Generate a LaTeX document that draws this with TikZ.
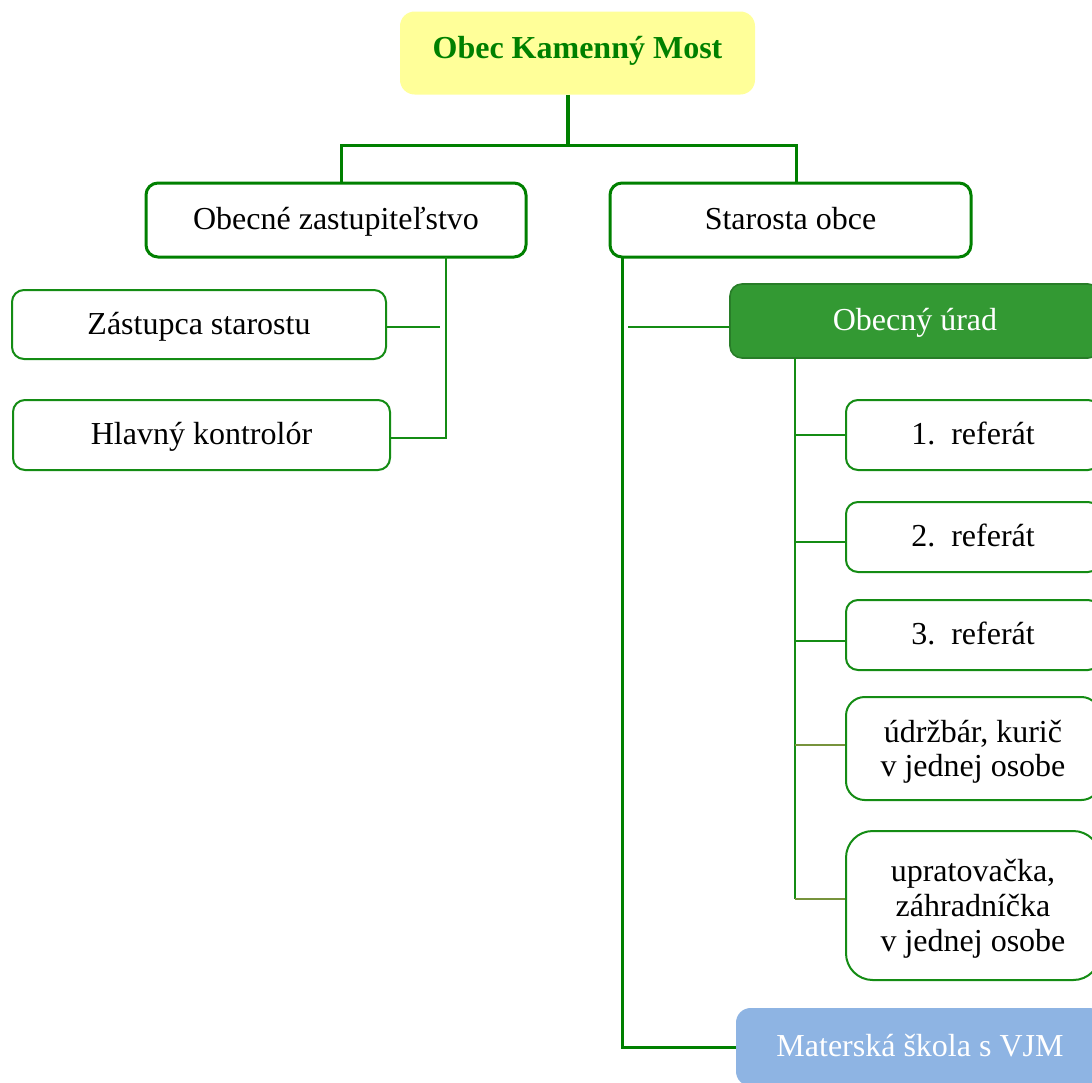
\documentclass[tikz,border=0pt]{standalone}
\usepackage{fontspec}
\setmainfont{Liberation Serif}
\usetikzlibrary{calc}
\definecolor{lgreen}{RGB}{0,128,0}
\definecolor{tgreen}{RGB}{20,140,20}
\definecolor{olivel}{RGB}{119,147,60}
\definecolor{oufill}{RGB}{51,153,51}
\definecolor{ouedge}{RGB}{40,125,40}
\definecolor{msfill}{RGB}{142,180,227}
\definecolor{yel}{RGB}{255,255,153}
\tikzset{
  base/.style={rectangle, rounded corners=9pt, align=center, inner sep=0pt,
    font=\fontsize{24}{26}\selectfont, text height=17pt, text depth=2.1pt},
  thickbox/.style={base, draw=lgreen, line width=2.25pt, fill=white},
  thinbox/.style={base, draw=tgreen, line width=1.5pt, fill=white},
  multibox/.style={rectangle, rounded corners=14pt, align=center, inner sep=0pt,
    font=\fontsize{24}{26}\selectfont, draw=tgreen, line width=1.5pt, fill=white,
    text depth=-6.5pt},
  trunk/.style={draw=lgreen, line width=2.25pt},
  twig/.style={draw=tgreen, line width=1.5pt},
  olivetwig/.style={draw=olivel, line width=1.5pt},
}
\begin{document}
\begin{tikzpicture}[x=0.75pt, y=-0.75pt]
\useasboundingbox (0,0) rectangle (1092,1082);
\clip (0,0) rectangle (1092,1082);
\fill[white] (0,0) rectangle (1092,1082);

% nodes
\node[base, fill=yel, rounded corners=11pt, minimum width=266.25pt, minimum height=62.25pt,
  text=lgreen, font=\fontsize{24}{26}\selectfont\bfseries, text height=10pt, text depth=2.1pt] (top) at (577.5,53) {Obec Kamenný Most};
\node[thickbox, minimum width=285pt, minimum height=55.5pt] (oz) at (336,220) {Obecné zastupiteľstvo};
\node[thickbox, minimum width=270.75pt, minimum height=55.5pt] (so) at (790.5,220) {Starosta obce};
\node[thinbox, minimum width=280.5pt, minimum height=51.75pt] (zs) at (199,324.5) {Zástupca starostu};
\node[thinbox, minimum width=282.75pt, minimum height=52.5pt] (hk) at (201.5,435) {Hlavný kontrolór};
\node[base, fill=oufill, draw=ouedge, line width=1.2pt, text=white, minimum width=277.5pt, minimum height=55.5pt] (ou) at (915,321) {Obecný úrad};
\node[thinbox, minimum width=190.5pt, minimum height=52.5pt] (r1) at (973,435) {1.\enspace referát};
\node[thinbox, minimum width=190.5pt, minimum height=52.5pt] (r2) at (973,537) {2.\enspace referát};
\node[thinbox, minimum width=190.5pt, minimum height=52.5pt] (r3) at (973,635) {3.\enspace referát};
\node[multibox, minimum width=190.5pt, minimum height=77.25pt] (ud) at (973,748.5) {údržbár, kurič\\v jednej osobe};
\node[multibox, rounded corners=20pt, minimum width=190.5pt, minimum height=111.75pt] (up) at (973,905.5) {upratovačka,\\záhradníčka\\v jednej osobe};
\node[base, fill=msfill, text=white, rounded corners=11pt, minimum width=276pt, minimum height=58.5pt] (ms) at (920,1047) {Materská škola s VJM};

% top trunk
\coordinate (j) at (568,145);
\draw[draw=lgreen, line width=3pt] (top.south -| j) -- (j);
\draw[trunk] ($(oz.north)+(5,0)$) |- (j) -| ($(so.north)+(5.5,0)$);

% zastupitelstvo branch
\coordinate (ozv) at (446,257);
\draw[twig] (ozv) |- ($(hk.east)+(0,3)$);
\draw[twig] ($(zs.east)+(0,2)$) -- ($(zs.east -| ozv)+(-6,2)$);

% starosta branch
\coordinate (sov) at (622,257);
\draw[trunk] (sov) |- (ms.west);
\draw[twig] ($(ou.west)+(0,6)$) -- ($(ou.west -| sov)+(6,6)$);

% urad branch
\coordinate (ouv) at (795,358);
\draw[twig] (ouv) -- ($(ouv |- up.west)+(0,-7)$);
\draw[twig] (r1.west) -- (r1.west -| ouv);
\draw[twig] ($(r2.west)+(0,5)$) -- ($(r2.west -| ouv)+(0,5)$);
\draw[twig] ($(r3.west)+(0,6)$) -- ($(r3.west -| ouv)+(0,6)$);
\draw[olivetwig] ($(ud.west)+(0,-4)$) -- ($(ud.west -| ouv)+(0,-4)$);
\draw[olivetwig] ($(up.west)+(0,-7)$) -- ($(up.west -| ouv)+(0,-7)$);
\end{tikzpicture}
\end{document}
